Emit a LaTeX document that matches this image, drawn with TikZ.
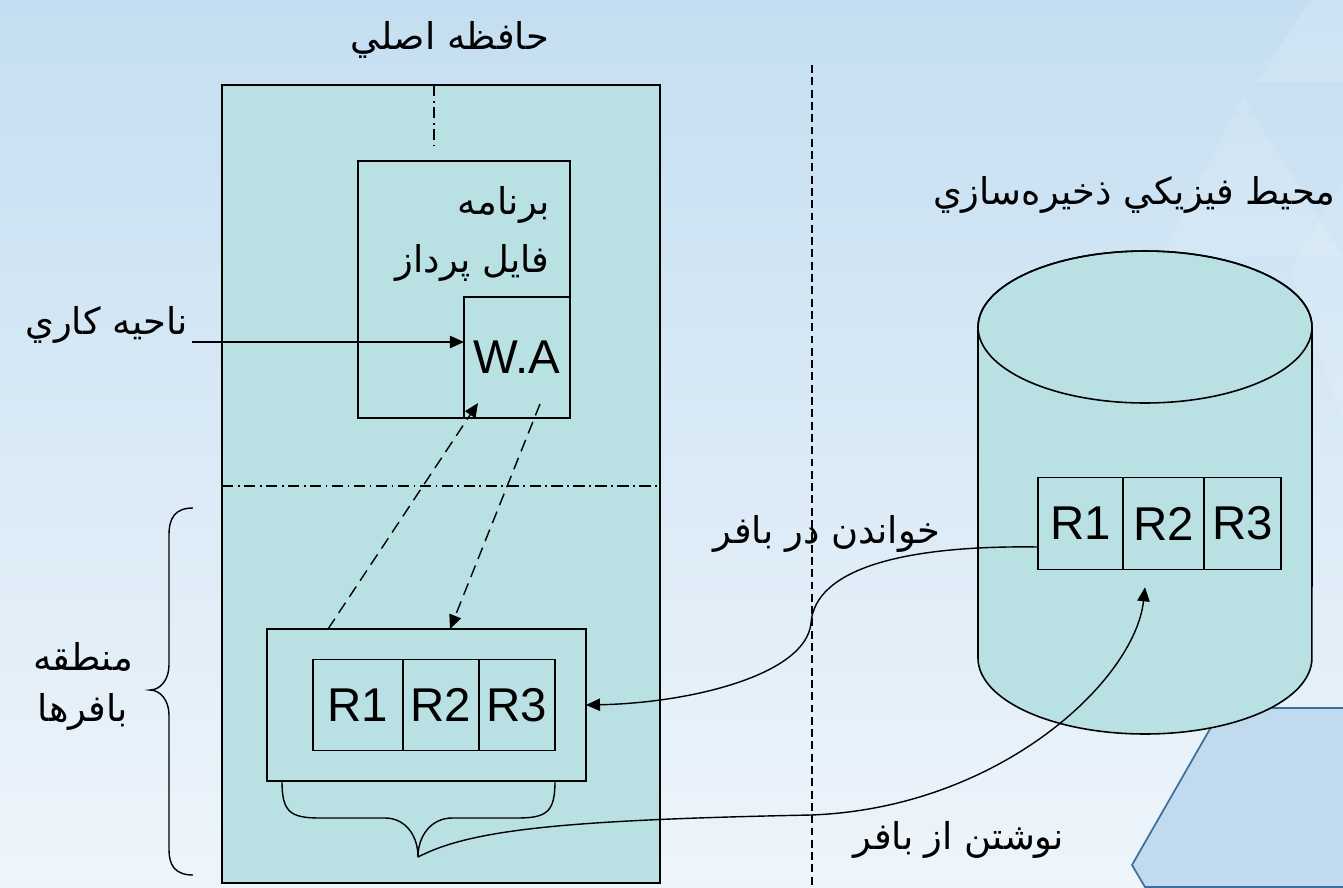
\documentclass[tikz,border=0pt]{standalone}
\usepackage{fontspec}
\setmainfont{Liberation Sans}
\newfontfamily\farsi[Script=Arabic]{DejaVu Sans}
\TeXXeTstate=1
\usetikzlibrary{arrows.meta,positioning}
\newcommand{\rtl}[1]{{\farsi\beginR #1\endR}}
\definecolor{tealfill}{RGB}{185,224,227}
\definecolor{bgtop}{RGB}{196,222,241}
\definecolor{bgbot}{RGB}{238,245,251}
\definecolor{decofill}{RGB}{194,218,238}
\definecolor{decoline}{RGB}{62,112,158}

\begin{document}
\begin{tikzpicture}[x=0.02cm,y=-0.02cm,>={Triangle[length=8pt,width=7pt]}]
	\tikzstyle{box}=[draw, line width=0.9pt, fill=tealfill, inner sep=0pt, outer sep=0pt]
	\tikzstyle{rec}=[box, line width=0.7pt, minimum height=1.83cm, font=\fontsize{27}{30}\selectfont]
	\tikzstyle{fatext}=[font=\fontsize{21}{24}\selectfont, inner sep=0pt]
	\tikzstyle{dashdot}=[line width=0.7pt, dash pattern=on 6.5pt off 2.5pt on 1pt off 2.5pt]
	\tikzstyle{dsh}=[line width=0.8pt, dash pattern=on 7pt off 4pt]
	\tikzstyle{link}=[line width=0.8pt]

	\useasboundingbox (0,0) rectangle (1343,887);

	% background
	\begin{scope}
		\clip (0,0) rectangle (1343,887);
		\shade[top color=bgtop, bottom color=bgbot] (0,0) rectangle (1343,887);
		\fill[white, opacity=0.15] (1257,82) -- (1310,0) -- (1343,0) -- (1343,82) -- cycle;
		\fill[white, opacity=0.12] (1243,97) -- (1160,257) -- (1343,257) -- cycle;
		\fill[white, opacity=0.1] (1290,270) -- (1343,180) -- (1343,420) -- cycle;
		\filldraw[fill=decofill, draw=decoline, line width=1pt] (1343,708) -- (1222,708) -- (1132,865) -- (1145,887) -- (1343,887);
	\end{scope}

	% main memory
	\node[box, minimum width=8.76cm, minimum height=15.96cm] (mem) at (441,484) {};
	\node[fatext] (memtitle) at (450,40) {\rtl{حافظه اصلي}};
	\draw[dashdot] (434,85) -- (434,146);
	\draw[dashdot] (mem.west |- 0,486) -- (657,486);

	\node[box, minimum width=4.24cm, minimum height=5.14cm] (prog) at (464,289.5) {};
	\node[fatext, anchor=east] (prog1) at (550,205) {\rtl{برنامه}};
	\node[fatext, anchor=east] (prog2) at (550,263) {\rtl{فايل پرداز}};
	\node[box, minimum width=2.12cm, minimum height=2.42cm, font=\fontsize{27}{30}\selectfont] (wa) at (517,357.5) {W.A};

	\node[fatext, anchor=east] (walabel) at (188,325) {\rtl{ناحيه كاري}};
	\coordinate (wastart) at (192,342);
	\draw[link,->] (wastart) -- (wastart -| wa.west);

	% buffers
	\node[box, minimum width=6.38cm, minimum height=3.04cm] (buf) at (426.5,705) {};
	\node[rec, minimum width=1.8cm] (b1) at (358,705) {R1};
	\node[rec, minimum width=1.52cm, right=0pt of b1] (b2) {R2};
	\node[rec, minimum width=1.52cm, right=0pt of b2] (b3) {R3};

	\draw[dsh,->] ([xshift=1.22cm]buf.north west) -- ([xshift=0.28cm,yshift=0.3cm]wa.south west);
	\draw[dsh,->] ([xshift=1.52cm,yshift=0.28cm]wa.south west) -- ([xshift=3.66cm]buf.north west);

	\coordinate (brtip) at (418,857);
	\draw[line width=0.8pt] (282,781) .. controls (282,812) and (290,818) .. (320,818) -- (385,818)
		.. controls (405,818) and (418,835) .. (brtip);
	\draw[line width=0.8pt] (555,781) .. controls (555,812) and (547,818) .. (517,818) -- (452,818)
		.. controls (432,818) and (418,835) .. (brtip);

	\draw[line width=0.8pt] (193,508) .. controls (175,508) and (169,518) .. (169,535) -- (169,665)
		.. controls (169,680) and (160,690) .. (150,690)
		.. controls (160,690) and (169,700) .. (169,715) -- (169,850)
		.. controls (169,865) and (175,875) .. (193,875);
	\node[fatext] (zone1) at (83,657) {\rtl{منطقه}};
	\node[fatext] (zone2) at (83,712) {\rtl{بافرها}};

	% separator
	\draw[line width=0.7pt, dash pattern=on 4.5pt off 2.5pt] (812,65) -- (812,887);

	% disk
	\node[fatext, anchor=east] (disktitle) at (1336,195) {\rtl{محيط فيزيكي ذخيره‌سازي}};
	\filldraw[fill=tealfill, line width=0.9pt] (978,327) -- (978,658)
		arc[start angle=180, end angle=360, x radius=3.34cm, y radius=1.52cm] -- (1312,327)
		arc[start angle=0, end angle=180, x radius=3.34cm, y radius=1.52cm] -- cycle;
	\draw[line width=0.9pt] (1145,327) ellipse [x radius=3.34cm, y radius=1.52cm];

	\node[rec, minimum width=1.7cm] (d1) at (1080.5,523.5) {R1};
	\node[rec, minimum width=1.62cm, right=0pt of d1] (d2) {R2};
	\node[rec, minimum width=1.54cm, right=0pt of d2] (d3) {R3};

	% read and write
	\node[fatext] (readlbl) at (827,534) {\rtl{خواندن در بافر}};
	\node[fatext] (writelbl) at (959,840) {\rtl{نوشتن از بافر}};
	\draw[link,->] ([yshift=-0.47cm]d1.west) .. controls (900,545) and (815,570) .. (811,623)
		.. controls (806,675) and (690,703) .. (buf.east);
	\draw[link,->] (brtip) .. controls (470,830) and (560,820) .. (811,815)
		.. controls (1000,808) and (1135,680) .. ([xshift=0.44cm,yshift=-0.36cm]d2.south west);
\end{tikzpicture}
\end{document}
